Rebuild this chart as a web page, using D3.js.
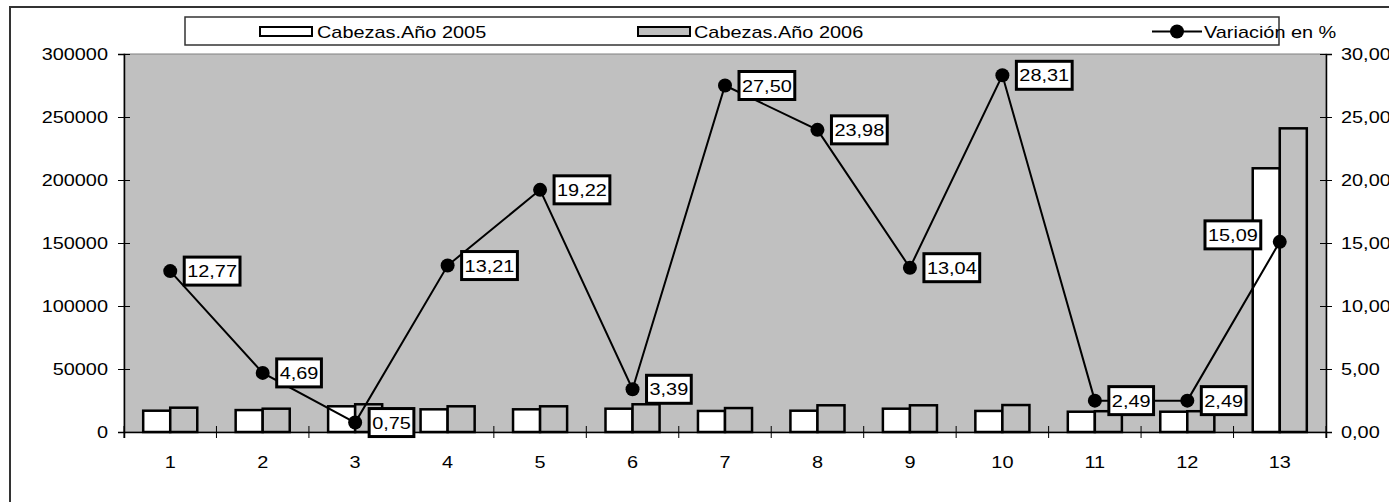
<!DOCTYPE html>
<html>
<head>
<meta charset="utf-8">
<script src="https://d3js.org/d3.v7.min.js"></script>
<style>
body { margin: 0; background: #fff; }
text { font-family: "Liberation Sans", Arial, sans-serif; font-size: 17px; fill: #000; }
</style>
</head>
<body>
<div id="chart"></div>
<script>
// data
var categories = ["1","2","3","4","5","6","7","8","9","10","11","12","13"];
var cabezas2005 = [16900, 17400, 20400, 18000, 18000, 18500, 16700, 16900, 18500, 16700, 16100, 16100, 209300];
var cabezas2006 = [19300, 18500, 22000, 20400, 20400, 22000, 19000, 21200, 21200, 21400, 16500, 16500, 241000];
var variacion = [12.77, 4.69, 0.75, 13.21, 19.22, 3.39, 27.50, 23.98, 13.04, 28.31, 2.49, 2.49, 15.09];
var leftTicks = [0, 50000, 100000, 150000, 200000, 250000, 300000];
var rightTicks = [0, 5, 10, 15, 20, 25, 30];

var W = 1389, H = 502;
var margin = {top: 54, left: 124, right: 63, bottom: 70};
var width = W - margin.left - margin.right,
    height = H - margin.top - margin.bottom;

var svg = d3.select("#chart").append("svg")
    .attr("width", W).attr("height", H);

// outer frame
svg.append("rect")
    .attr("x", 10).attr("y", 7).attr("width", 1400).attr("height", 520)
    .attr("fill", "#fff").attr("stroke", "#333").attr("stroke-width", 2);

var g = svg.append("g")
    .attr("transform", "translate(" + margin.left + "," + margin.top + ")");

var x = d3.scaleBand().domain(categories).range([0, width]).padding(0);
var xs = d3.scaleBand().domain(["a", "b"]).range([0, x.bandwidth()])
    .paddingInner(0).paddingOuter(0.71);
var y = d3.scaleLinear().domain([0, 300000]).range([height, 0]);
var y2 = d3.scaleLinear().domain([0, 30]).range([height, 0]);

// plot area
g.append("rect")
    .attr("width", width).attr("height", height)
    .attr("fill", "#c0c0c0").attr("stroke", "#808080").attr("stroke-width", 1);

// bars
var fmt = d3.format(".2f");
categories.forEach(function(c, i) {
  g.append("rect")
    .attr("x", x(c) + xs("a")).attr("y", y(cabezas2005[i]))
    .attr("width", xs.bandwidth()).attr("height", height - y(cabezas2005[i]))
    .attr("fill", "#fff").attr("stroke", "#000").attr("stroke-width", 2.5);
  g.append("rect")
    .attr("x", x(c) + xs("b")).attr("y", y(cabezas2006[i]))
    .attr("width", xs.bandwidth()).attr("height", height - y(cabezas2006[i]))
    .attr("fill", "#c0c0c0").attr("stroke", "#000").attr("stroke-width", 2.5);
});

// axes
var ax = g.append("g").attr("transform", "translate(0," + height + ")")
    .call(d3.axisBottom(x).tickSize(6).tickPadding(18));
ax.selectAll(".tick").each(function(d) {
  d3.select(this).select("line").attr("transform", "translate(" + (-x.bandwidth() / 2) + ",0)");
});
ax.append("line").attr("class", "tick")
    .attr("x1", width).attr("x2", width).attr("y1", -6).attr("y2", 6);
ax.selectAll("line").attr("y1", -6).attr("stroke", "#000");

var ay = g.append("g").call(d3.axisLeft(y).tickValues(leftTicks).tickSize(6).tickPadding(10)
    .tickFormat(d3.format("d")));
ay.selectAll("line").attr("x1", 6);

var ay2 = g.append("g").attr("transform", "translate(" + width + ",0)")
    .call(d3.axisRight(y2).tickValues(rightTicks).tickSize(6).tickPadding(9)
      .tickFormat(function(d) { return fmt(d).replace(".", ","); }));
ay2.selectAll("line").attr("x1", -6);

[ax, ay, ay2].forEach(function(a) {
  a.select(".domain").attr("stroke", "#000").attr("stroke-width", 1.5);
  a.selectAll("text").style("font-size", "17px").attr("fill", "#000")
    .style("font-family", "'Liberation Sans', Arial, sans-serif");
  a.selectAll("line").attr("stroke", "#000");
});

// variation line
var line = d3.line()
    .x(function(d, i) { return x(categories[i]) + x.bandwidth() / 2; })
    .y(function(d) { return y2(d); });
g.append("path").datum(variacion)
    .attr("d", line).attr("fill", "none").attr("stroke", "#000").attr("stroke-width", 2);
g.selectAll(".dot").data(variacion).enter().append("circle")
    .attr("cx", function(d, i) { return x(categories[i]) + x.bandwidth() / 2; })
    .attr("cy", function(d) { return y2(d); })
    .attr("r", 7).attr("fill", "#000");

// data labels
var labels = g.selectAll(".lab").data(variacion).enter().append("g").attr("class", "lab");
labels.each(function(d, i) {
  var sel = d3.select(this);
  var px = x(categories[i]) + x.bandwidth() / 2, py = y2(d);
  var rect = sel.append("rect");
  var t = sel.append("text").text(fmt(d).replace(".", ","))
      .attr("dy", "0.36em");
  var w = t.node().getComputedTextLength() * 1.17;
  t.attr("textLength", w).attr("lengthAdjust", "spacingAndGlyphs");
  var bw = w + 6, bh = 28;
  var bx = px + 14, by = py - bh / 2;
  if (i === variacion.length - 1) { bx = px - 19 - bw; by = py - 7 - bh / 2; }
  rect.attr("x", bx).attr("y", by).attr("width", bw).attr("height", bh)
    .attr("fill", "#fff").attr("stroke", "#000").attr("stroke-width", 3);
  t.attr("x", bx + 3).attr("y", by + bh / 2);
});

// legend
var lg = svg.append("g");
lg.append("rect").attr("x", 185).attr("y", 17).attr("width", 1094).attr("height", 28)
    .attr("fill", "#fff").attr("stroke", "#333").attr("stroke-width", 1.5);
lg.append("rect").attr("x", 260).attr("y", 27).attr("width", 52).attr("height", 9)
    .attr("fill", "#fff").attr("stroke", "#000").attr("stroke-width", 2);
lg.append("text").attr("x", 317).attr("y", 38).text("Cabezas.Año 2005");
lg.append("rect").attr("x", 638).attr("y", 27).attr("width", 52).attr("height", 9)
    .attr("fill", "#c0c0c0").attr("stroke", "#000").attr("stroke-width", 2);
lg.append("text").attr("x", 694).attr("y", 38).text("Cabezas.Año 2006");
lg.append("line").attr("x1", 1152).attr("x2", 1202).attr("y1", 31.5).attr("y2", 31.5)
    .attr("stroke", "#000").attr("stroke-width", 2);
lg.append("circle").attr("cx", 1177).attr("cy", 31.5).attr("r", 7).attr("fill", "#000");
lg.append("text").attr("x", 1204).attr("y", 38).text("Variación en %");

// the original text is drawn slightly wider than the font
svg.selectAll("text").filter(function() { return !this.hasAttribute("textLength"); })
  .each(function() {
    var w = this.getComputedTextLength();
    d3.select(this).attr("textLength", w * 1.17).attr("lengthAdjust", "spacingAndGlyphs");
  });
</script>
</body>
</html>
